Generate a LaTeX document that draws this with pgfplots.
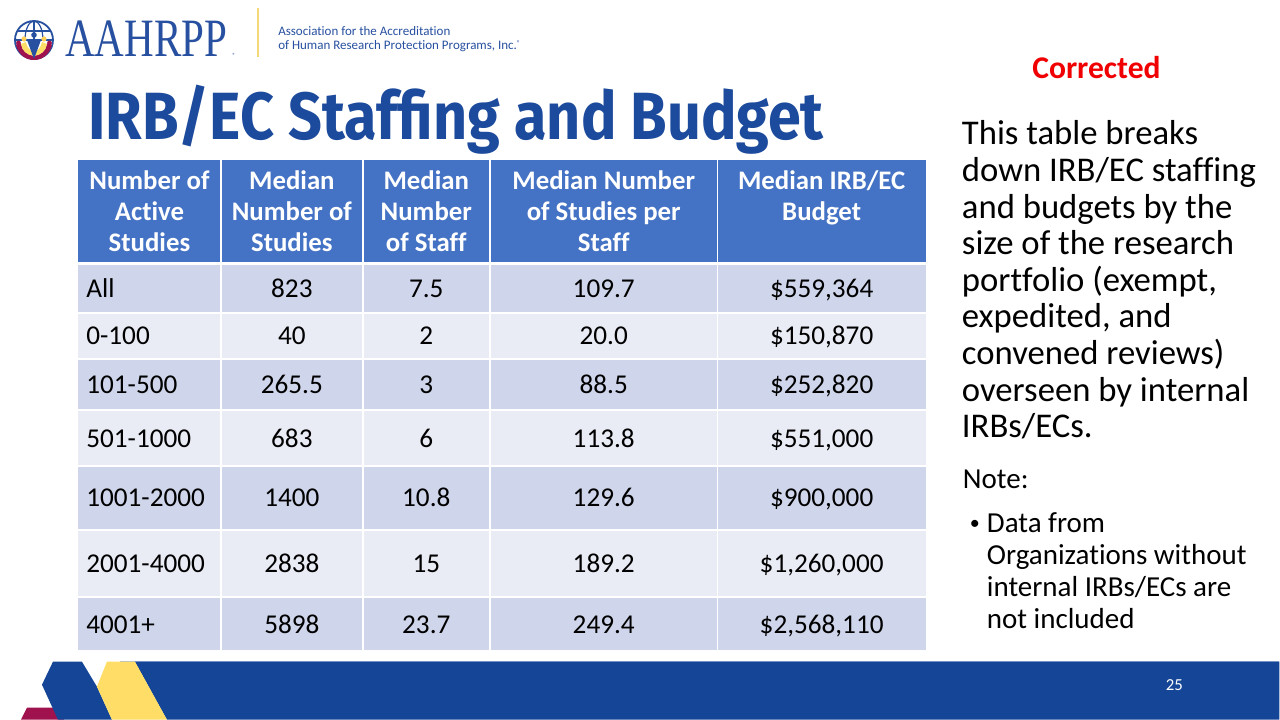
\documentclass[border=0pt]{standalone}
\usepackage{pgfplots}
\pgfplotsset{compat=1.18}
\usepackage{pgfplotstable}
\usepackage{fontspec}
\setmainfont{Carlito}[Ligatures=NoCommon]
\newfontfamily\titlefont{Fira Sans}
\newfontfamily\logofont{Liberation Serif}
\definecolor{hdr}{HTML}{4472C4}
\definecolor{rowA}{HTML}{CFD5EA}
\definecolor{rowB}{HTML}{E9EBF5}
\definecolor{navy}{RGB}{28,74,156}
\definecolor{logoblue}{RGB}{40,80,160}
\definecolor{band}{RGB}{20,69,150}
\definecolor{gold}{HTML}{FFDD66}
\definecolor{divgold}{HTML}{F6D977}
\definecolor{crimson}{HTML}{A0124E}
\definecolor{lightline}{HTML}{A9BCE0}
\definecolor{corr}{RGB}{240,0,0}
\newcommand\bodyfont{\fontsize{13.6}{15}\selectfont}
\newcommand\hdrfont{\fontsize{13.4}{15}\selectfont\bfseries}

\pgfplotstableread{
y   cat        studies staff perstaff budget
298 All        823     7.5   109.7    559,364
345 0-100      40      2     20.0     150,870
394 101-500    265.5   3     88.5     252,820
448 501-1000   683     6     113.8    551,000
507 1001-2000  1400    10.8  129.6    900,000
573 2001-4000  2838    15    189.2    1,260,000
634 4001+      5898    23.7  249.4    2,568,110
}\tbl

\begin{document}
\begin{tikzpicture}
\begin{scope}[x=0.5pt,y=-0.5pt,shift={(0pt,360pt)}]
% page background
\fill[white] (0,0) rectangle (1280,720);
% footer
\draw[lightline, line width=0.6pt] (120,661.5) -- (1280,661.5);
\fill[band] (135,662) -- (1280,662) -- (1280,720) -- (167,720) -- cycle;
\fill[crimson] (27,708) -- (62,708) -- (64,720) -- (21,720) -- cycle;
\fill[band] (53,662) -- (82,662) -- (97,687) -- (112,720) -- (58,720) -- (42,685) -- cycle;
\fill[gold] (107,662) -- (135,662) -- (167,720) -- (112,720) -- (97,687) -- cycle;
\node[anchor=base, inner sep=0pt, text=white, font=\fontsize{8.4}{10}\selectfont] at (1175,691) {25};
% table background
\fill[hdr] (78,160) rectangle (926,263);
\foreach \a/\b/\c in {263/313/rowA, 313/359/rowB, 359/410/rowA, 410/466/rowB, 466/530/rowA, 530/597/rowB, 597/650/rowA}
  \fill[\c] (78,\a) rectangle (926,\b);
\foreach \xx in {221,363,490,718}
  \draw[white, line width=0.8pt] (\xx,160) -- (\xx,650);
\foreach \yy in {313,359,410,466,530,597}
  \draw[white, line width=0.8pt] (78,\yy) -- (926,\yy);
\draw[white, line width=1.6pt] (78,264) -- (926,264);
% header text
\begin{scope}[every node/.style={anchor=base, inner sep=0pt, text=white, font=\hdrfont}]
\node at (149.5,190) {Number of};
\node at (149.5,221) {Active};
\node at (149.5,252) {Studies};
\node at (292,190) {Median};
\node at (292,221) {Number of};
\node at (292,252) {Studies};
\node at (426.5,190) {Median};
\node at (426.5,221) {Number};
\node at (426.5,252) {of Staff};
\node at (604,190) {Median Number};
\node at (604,221) {of Studies per};
\node at (604,252) {Staff};
\node at (822,190) {Median IRB/EC};
\node at (822,221) {Budget};
\end{scope}
% logo
\draw[logoblue, line width=0.9pt] (34,40) circle[radius=19];
\begin{scope}
\clip (10,15) rectangle (60,41);
\draw[logoblue, line width=0.6pt] (34,40) ellipse[x radius=9, y radius=19];
\draw[logoblue, line width=0.6pt] (34,21) -- (34,40);
\end{scope}
\draw[logoblue, line width=0.6pt] (17.5,31) -- (50.5,31);
\draw[logoblue, line width=0.6pt] (15,40) -- (53,40);
\fill[crimson] (16,45) .. controls (19,56) and (27,60) .. (34,60) -- (34,56) .. controls (27,55) and (22,51) .. (21,44) -- cycle;
\fill[crimson] (52,45) .. controls (49,56) and (41,60) .. (34,60) -- (34,56) .. controls (41,55) and (46,51) .. (47,44) -- cycle;
\fill[gold] (21,44) .. controls (22,51) and (27,55) .. (34,56) -- (34,52) .. controls (29,50) and (27,47) .. (26,42) -- cycle;
\fill[gold] (47,44) .. controls (46,51) and (41,55) .. (34,56) -- (34,52) .. controls (39,50) and (41,47) .. (42,42) -- cycle;
\fill[logoblue] (27,40) -- (41,40) -- (34,59) -- cycle;
\fill[logoblue] (34,35) circle[radius=2.8];
\fill[gold!85!orange] (24,39) circle[radius=2.6];
\fill[gold!85!orange] (44,39) circle[radius=2.6];
\fill[crimson] (18.5,43) circle[radius=2.4];
\fill[crimson] (49.5,43) circle[radius=2.4];
\node[anchor=base west, inner sep=0pt, text=logoblue] at (65,57) {\scalebox{0.76}[1]{\logofont\fontsize{27}{30}\selectfont AAHRPP}};
\node[anchor=base west, inner sep=0pt, text=logoblue, font=\fontsize{3}{3}\selectfont] at (232,58) {®};
\draw[divgold, line width=0.9pt] (258,8) -- (258,57);
\node[anchor=base west, inner sep=0pt, text=logoblue, font=\fontsize{6.5}{8}\selectfont] at (278,36) {Association for the Accreditation};
\node[anchor=base west, inner sep=0pt, text=logoblue, font=\fontsize{6.5}{8}\selectfont] at (278,50) {of Human Research Protection Programs, Inc.\raisebox{0.8ex}{\fontsize{3.5}{4}\selectfont ®}};
% title
\node[anchor=base west, inner sep=0pt, text=navy] at (88,140) {\scalebox{0.888}[1]{\titlefont\bfseries\fontsize{33.4}{40}\selectfont IRB/EC Staffing and Budget}};
% corrected
\node[anchor=base, inner sep=0pt, text=corr, font=\fontsize{15.8}{18}\selectfont\bfseries] at (1097,79) {Corrected};
% right text
\begin{scope}[every node/.style={anchor=base west, inner sep=0pt, text=black, font=\fontsize{17.35}{18}\selectfont}]
\node at (962,145) {This table breaks};
\node at (962,181.6) {down IRB/EC staffing};
\node at (962,218.2) {and budgets by the};
\node at (962,254.8) {size of the research};
\node at (962,291.4) {portfolio (exempt,};
\node at (962,328) {expedited, and};
\node at (962,364.6) {convened reviews)};
\node at (962,401.2) {overseen by internal};
\node at (962,437.8) {IRBs/ECs.};
\end{scope}
\begin{scope}[every node/.style={anchor=base west, inner sep=0pt, text=black, font=\fontsize{14.5}{16}\selectfont}]
\node at (963,489) {Note:};
\node[font=\fontsize{10}{12}\selectfont] at (970,530) {•};
\node at (987,533) {Data from};
\node at (987,565) {Organizations without};
\node at (987,597) {internal IRBs/ECs are};
\node at (987,628.5) {not included};
\end{scope}
\end{scope}

\begin{axis}[hide axis, scale only axis, width=640pt, height=360pt,
  xmin=0, xmax=1280, ymin=0, ymax=720, y dir=reverse, clip=false,
  point meta=explicit symbolic,
  nodes near coords={\pgfplotspointmeta},
  nodes near coords style={font=\bodyfont, text=black, anchor=base, inner sep=0pt},
  every axis plot/.append style={only marks, mark=*, mark size=0pt, mark options={draw=none, fill=none}}]
\addplot[nodes near coords style={anchor=base west}] table[x expr=86, y=y, meta=cat] {\tbl};
\addplot table[x expr=292, y=y, meta=studies] {\tbl};
\addplot table[x expr=426.5, y=y, meta=staff] {\tbl};
\addplot table[x expr=604, y=y, meta=perstaff] {\tbl};
\addplot[nodes near coords={\$\pgfplotspointmeta}] table[x expr=822, y=y, meta=budget] {\tbl};
\end{axis}
\end{tikzpicture}
\end{document}
